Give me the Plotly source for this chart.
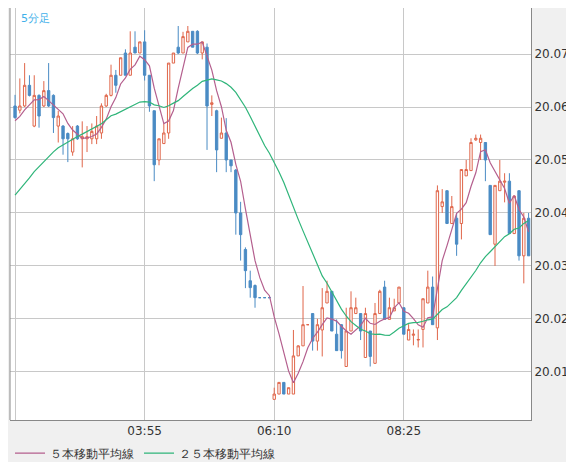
import plotly.graph_objects as go
import pandas as pd

# OHLC of 5-minute bars starting 01:40
opens = [20.0602,20.0594,20.0602,20.0641,20.0564,20.0622,20.0602,20.0631,20.0622,20.0564,
         20.0564,20.0550,20.0515,20.0564,20.0540,20.0540,20.0540,20.0540,20.0551,20.0602,
         20.0622,20.0660,20.0660,20.0702,20.0660,20.0713,20.0702,20.0723,20.0660,20.0593,
         20.0500,20.0531,20.0551,20.0683,20.0713,20.0702,20.0723,20.0743,20.0743,20.0702,
         20.0713,20.0605,20.0593,20.0541,20.0551,20.0500,20.0481,20.0400,20.0331,20.0272,
         20.0263,20.0240,20.0240,20.0240,20.0048,20.0058,20.0080,20.0058,20.0058,20.0130,
         20.0149,20.0189,20.0210,20.0158,20.0179,20.0230,20.0252,20.0171,20.0189,20.0110,
         20.0177,20.0210,20.0210,20.0127,20.0177,20.0116,20.0210,20.0260,20.0199,20.0215,
         20.0230,20.0221,20.0160,20.0169,20.0160,20.0180,20.0230,20.0260,20.0183,20.0412,
         20.0442,20.0380,20.0390,20.0380,20.0470,20.0480,20.0538,20.0533,20.0533,20.0452,
         20.0341,20.0442,20.0458,20.0460,20.0361,20.0442,20.0319,20.0390]
highs = [20.0623,20.0654,20.0683,20.0660,20.0660,20.0624,20.0649,20.0683,20.0624,20.0593,
         20.0566,20.0552,20.0564,20.0566,20.0573,20.0564,20.0569,20.0583,20.0607,20.0625,
         20.0680,20.0670,20.0693,20.0709,20.0743,20.0743,20.0723,20.0745,20.0660,20.0593,
         20.0540,20.0569,20.0683,20.0702,20.0753,20.0742,20.0753,20.0743,20.0745,20.0723,
         20.0720,20.0622,20.0595,20.0580,20.0579,20.0500,20.0483,20.0421,20.0335,20.0291,
         20.0265,20.0240,20.0240,20.0240,20.0070,20.0080,20.0080,20.0070,20.0179,20.0150,
         20.0262,20.0189,20.0210,20.0200,20.0258,20.0272,20.0252,20.0199,20.0190,20.0221,
         20.0252,20.0240,20.0210,20.0221,20.0177,20.0230,20.0255,20.0272,20.0240,20.0238,
         20.0260,20.0221,20.0190,20.0180,20.0180,20.0238,20.0291,20.0280,20.0452,20.0445,
         20.0442,20.0432,20.0400,20.0482,20.0500,20.0541,20.0548,20.0548,20.0533,20.0452,
         20.0452,20.0500,20.0475,20.0475,20.0432,20.0442,20.0400,20.0400]
lows = [20.0578,20.0588,20.0600,20.0620,20.0562,20.0561,20.0600,20.0600,20.0551,20.0533,
        20.0510,20.0496,20.0508,20.0538,20.0486,20.0515,20.0530,20.0530,20.0540,20.0600,
        20.0620,20.0627,20.0660,20.0660,20.0660,20.0702,20.0702,20.0650,20.0591,20.0460,
        20.0490,20.0531,20.0540,20.0683,20.0700,20.0702,20.0723,20.0713,20.0700,20.0690,
        20.0519,20.0583,20.0477,20.0541,20.0477,20.0477,20.0359,20.0310,20.0258,20.0240,
        20.0221,20.0240,20.0240,20.0240,20.0048,20.0058,20.0058,20.0058,20.0058,20.0130,
        20.0149,20.0189,20.0140,20.0140,20.0129,20.0230,20.0177,20.0140,20.0125,20.0110,
        20.0177,20.0210,20.0160,20.0127,20.0110,20.0116,20.0210,20.0199,20.0199,20.0215,
        20.0230,20.0171,20.0160,20.0150,20.0146,20.0146,20.0230,20.0189,20.0160,20.0400,
        20.0380,20.0380,20.0319,20.0350,20.0470,20.0480,20.0536,20.0500,20.0460,20.0359,
        20.0300,20.0442,20.0420,20.0361,20.0361,20.0310,20.0267,20.0319]
closes = [20.0580,20.0602,20.0641,20.0622,20.0622,20.0583,20.0631,20.0602,20.0580,20.0583,
          20.0540,20.0540,20.0540,20.0540,20.0544,20.0544,20.0554,20.0564,20.0602,20.0622,
          20.0660,20.0641,20.0693,20.0660,20.0702,20.0702,20.0723,20.0660,20.0602,20.0491,
          20.0540,20.0551,20.0683,20.0702,20.0702,20.0733,20.0743,20.0713,20.0702,20.0723,
          20.0602,20.0608,20.0519,20.0551,20.0500,20.0489,20.0400,20.0359,20.0291,20.0259,
          20.0240,20.0240,20.0240,20.0240,20.0058,20.0080,20.0058,20.0070,20.0130,20.0149,
          20.0189,20.0189,20.0158,20.0189,20.0221,20.0252,20.0177,20.0140,20.0140,20.0177,
          20.0221,20.0221,20.0177,20.0210,20.0129,20.0210,20.0252,20.0199,20.0221,20.0221,
          20.0260,20.0171,20.0180,20.0171,20.0161,20.0238,20.0260,20.0189,20.0442,20.0421,
          20.0380,20.0412,20.0341,20.0482,20.0482,20.0533,20.0541,20.0541,20.0500,20.0359,
          20.0452,20.0460,20.0460,20.0361,20.0432,20.0319,20.0390,20.0319]
# closes of the 24 bars before the window (needed for the moving averages)
prior_closes = [20.034,20.035,20.036,20.033,20.035,20.037,20.038,20.036,20.039,20.040,
                20.041,20.040,20.042,20.043,20.042,20.044,20.045,20.046,20.044,20.047,
                20.056,20.058,20.057,20.058]

x_ticks = ["01:40", "03:55", "06:10", "08:25"]
x_tick_text = ["", "03:55", "06:10", "08:25"]
y_ticks = [20.01, 20.02, 20.03, 20.04, 20.05, 20.06, 20.07]

day = "2024-01-01 "
times = pd.date_range(day + "01:40", periods=len(closes), freq="5min")
allc = pd.Series(prior_closes + closes)
ma5 = allc.rolling(5).mean().iloc[len(prior_closes):].values
ma25 = allc.rolling(25).mean().iloc[len(prior_closes):].values

fig = go.Figure()
fig.add_trace(go.Candlestick(
    x=times, open=opens, high=highs, low=lows, close=closes,
    increasing=dict(line=dict(color="#e0664a", width=1), fillcolor="white"),
    decreasing=dict(line=dict(color="#4a8bc4", width=1), fillcolor="#4a8bc4"),
    whiskerwidth=0, showlegend=False, hoverinfo="skip"))
fig.add_trace(go.Scatter(x=times, y=ma5, mode="lines", name="５本移動平均線",
                         line=dict(color="#b45f8e", width=1.2)))
fig.add_trace(go.Scatter(x=times, y=ma25, mode="lines", name="２５本移動平均線",
                         line=dict(color="#2fb57a", width=1.2)))

fig.add_annotation(text="5分足", xref="paper", yref="paper", x=0.018, y=0.995,
                   xanchor="left", yanchor="top", showarrow=False,
                   font=dict(color="#3fb0ea", size=11))

font = dict(family="DejaVu Sans", size=12, color="#333")
fig.update_layout(
    width=574, height=462, margin=dict(l=2, r=51, t=0, b=50, autoexpand=False),
    paper_bgcolor="#f0f0f0", plot_bgcolor="white", font=font,
    xaxis=dict(rangeslider=dict(visible=False), type="date", automargin=False,
               range=[day + "01:34:45", day + "10:37:30"],
               tickvals=[day + t for t in x_ticks], ticktext=x_tick_text,
               showgrid=True, gridcolor="#c8c8c8", gridwidth=1,
               showline=True, linecolor="#888", mirror=False, ticks="", zeroline=False),
    yaxis=dict(side="right", range=[20.0009, 20.0787], tickvals=y_ticks, automargin=False,
               tickformat=".2f", showgrid=True, gridcolor="#c8c8c8",
               showline=True, linecolor="#888", ticks="", zeroline=False),
    legend=dict(orientation="h", x=0.0, y=-0.045, xanchor="left", yanchor="top",
                bgcolor="rgba(0,0,0,0)", font=dict(size=12, color="#333")),
    shapes=[dict(type="line", xref="paper", yref="paper", x0=0, x1=0, y0=0, y1=1,
                 line=dict(color="#888", width=1))],
)
fig.write_html("out.html")
